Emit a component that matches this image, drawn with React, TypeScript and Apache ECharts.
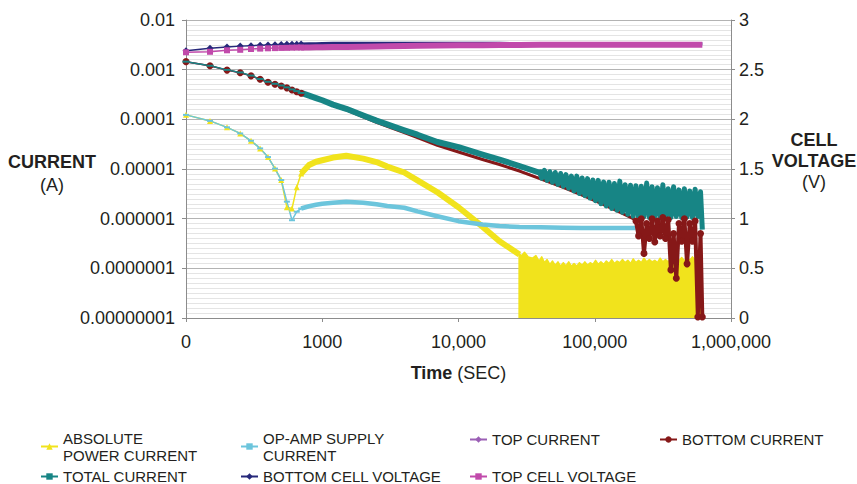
import React, { useEffect, useRef } from "react";
import * as echarts from "echarts";

// ---------- tick labels ----------
const xTickLabels = ["0", "1000", "10,000", "100,000", "1,000,000"]; // 1e2 .. 1e6
const yTickLabels = ["0.00000001", "0.0000001", "0.000001", "0.00001", "0.0001", "0.001", "0.01"]; // 1e-8 .. 1e-2

// ---------- series names ----------
const N_ABS = "ABSOLUTE POWER CURRENT";
const N_OPAMP = "OP-AMP SUPPLY CURRENT";
const N_TOP = "TOP CURRENT";
const N_BOT = "BOTTOM CURRENT";
const N_TOT = "TOTAL CURRENT";
const N_BV = "BOTTOM CELL VOLTAGE";
const N_TV = "TOP CELL VOLTAGE";

// ---------- time samples (s) ----------
const headTime = [100, 150, 200, 250, 300, 350, 400, 450, 500, 550, 600, 650, 700];
const midTime = [700, 800, 900, 1000, 1200, 1500, 2000, 2500, 3000, 4000, 5000, 7000, 10000, 15000, 20000, 28000, 40000, 58000, 80000, 108000, 150000, 200000, 300000, 616000];
const noiseTime = [39000, 40800, 42700, 44700, 46800, 49000, 51300, 53700, 56200, 58800, 61500, 64400, 67400, 70500, 73800, 77200, 80800, 84600, 88500, 92600, 96900, 101400, 106100, 111000, 116200, 121600, 127300, 133200, 139400, 145900, 152700, 159800, 167200, 175000, 183100, 191600, 200500, 209800, 219600, 229800, 240500, 251700, 263400, 275700, 288500, 301900, 316000, 330700, 346100, 362200, 379100, 396700, 415200, 434500, 454700, 475900, 498000, 521200, 545400, 570800, 597400, 616000];
const absBandTime = [27500, 29000, 30500, 32500, 35000, 37000, 39000, 40800, 42700, 44700, 46800, 49000, 51300, 53700, 56200, 58800, 61500, 64400, 67400, 70500, 73800, 77200, 80800, 84600, 88500, 92600, 96900, 101400, 106100, 111000, 116200, 121600, 127300, 133200, 139400, 145900, 152700, 159800, 167200, 175000, 183100, 191600, 200500, 209800, 219600, 229800, 240500, 251700, 263400, 275700, 288500, 301900, 316000, 330700, 346100, 362200, 379100, 396700, 415200, 434500, 454700, 475900, 498000, 521200, 545400, 570800, 597400, 616000];
const redNoiseTime = [200500, 209800, 219600, 229800, 240500, 251700, 263400, 275700, 288500, 301900, 316000, 330700, 346100, 362200, 379100, 396700, 415200, 434500, 454700, 475900, 498000, 521200, 545400, 570800, 597400, 616000];

// ---------- currents (A) ----------
const absHead = [1.23e-4, 9.3e-5, 6.9e-5, 5.2e-5, 3.7e-5, 2.6e-5, 1.74e-5, 1.02e-5, 6.0e-6, 1.7e-6, 1.6e-6, 4.3e-6, 8.1e-6];
const absTail = [8.1e-6, 1.2e-5, 1.4e-5, 1.5e-5, 1.7e-5, 1.85e-5, 1.62e-5, 1.38e-5, 1.12e-5, 8.5e-6, 5.9e-6, 3.4e-6, 1.7e-6, 6.9e-7, 3.5e-7, 1.9e-7, null, null, null, null, null, null, null, null];
const absBand = [2.0e-7, 1.8e-7, 2.1e-7, 1.7e-7, 1.6e-7, 1.8e-7, 1.4e-7, 1.7e-7, 1.3e-7, 1.5e-7, 1.2e-7, 1.4e-7, 1.15e-7, 1.35e-7, 1.1e-7, 1.3e-7, 1.12e-7, 1.35e-7, 1.1e-7, 1.25e-7, 1.1e-7, 1.3e-7, 1.15e-7, 1.35e-7, 1.15e-7, 1.3e-7, 1.2e-7, 1.45e-7, 1.2e-7, 1.35e-7, 1.2e-7, 1.4e-7, 1.25e-7, 1.5e-7, 1.25e-7, 1.4e-7, 1.3e-7, 1.5e-7, 1.3e-7, 1.45e-7, 1.25e-7, 1.55e-7, 1.3e-7, 1.45e-7, 1.3e-7, 1.6e-7, 1.35e-7, 1.5e-7, 1.35e-7, 1.45e-7, 1.3e-7, 1.6e-7, 1.35e-7, 1.5e-7, 1.35e-7, 1.55e-7, 1.4e-7, 1.6e-7, 1.4e-7, 1.65e-7, 1.4e-7, 1.6e-7, 1.45e-7, 1.7e-7, 1.45e-7, 1.6e-7, 1.5e-7, 1.55e-7];

const opampHead = [1.23e-4, 9.3e-5, 6.9e-5, 5.2e-5, 3.7e-5, 2.6e-5, 1.74e-5, 1.02e-5, 6.0e-6, 2.2e-6, 9.3e-7, 1.38e-6, 1.6e-6];
const opampTail = [1.6e-6, 1.78e-6, 1.9e-6, 2.0e-6, 2.1e-6, 2.2e-6, 2.1e-6, 1.95e-6, 1.8e-6, 1.66e-6, 1.4e-6, 1.12e-6, 8.9e-7, 7.6e-7, 7.1e-7, 6.8e-7, 6.7e-7, 6.6e-7, 6.5e-7, 6.5e-7, 6.5e-7, 6.5e-7, null, null];

const topHead = [1.45e-3, 1.2e-3, 9.8e-4, 8.7e-4, 7.5e-4, 6.4e-4, 5.6e-4, 5.1e-4, 4.7e-4, 4.3e-4, 3.9e-4, 3.6e-4, 3.35e-4];
const topTail = [3.4e-4, 3.0e-4, 2.65e-4, 2.4e-4, 1.93e-4, 1.58e-4, 1.14e-4, 8.9e-5, 7.4e-5, 5.5e-5, 4.4e-5, 3.1e-5, 2.25e-5, 1.58e-5, 1.26e-5, 9.3e-6, 6.5e-6, 4.4e-6, 3.1e-6, 2.15e-6, 1.4e-6, 9.8e-7, null, null];

const botHead = [1.45e-3, 1.2e-3, 9.8e-4, 8.7e-4, 7.5e-4, 6.4e-4, 5.6e-4, 5.1e-4, 4.7e-4, 4.3e-4, 3.9e-4, 3.6e-4, 3.35e-4];
const botTail = [3.35e-4, 2.95e-4, 2.6e-4, 2.35e-4, 1.9e-4, 1.55e-4, 1.12e-4, 8.7e-5, 7.2e-5, 5.4e-5, 4.3e-5, 3.0e-5, 2.2e-5, 1.55e-5, 1.23e-5, 9.1e-6, 6.3e-6, 4.3e-6, 3.0e-6, 2.1e-6, 1.38e-6, 9.5e-7, null, null];
const botNoise = [9.0e-7, 4.5e-7, 1.0e-6, 2.0e-7, 8.0e-7, 4.0e-7, 1.0e-6, 3.4e-7, 9.0e-7, 4.5e-7, 1.05e-6, 4.0e-7, 9.5e-7, 9.3e-8, 5.0e-7, 6.3e-8, 8.0e-7, 3.5e-7, 1.0e-6, 1.23e-7, 8.0e-7, 3.5e-7, 9.0e-7, 1.05e-8, 5.0e-7, 1.05e-8];

const totHead = [1.45e-3, 1.2e-3, 9.9e-4, 8.8e-4, 7.6e-4, 6.5e-4, 5.7e-4, 5.2e-4, 4.8e-4, 4.4e-4, 4.0e-4, 3.7e-4, 3.4e-4];
const totTail = [3.4e-4, 3.0e-4, 2.68e-4, 2.42e-4, 1.98e-4, 1.63e-4, 1.19e-4, 9.4e-5, 7.9e-5, 6.0e-5, 4.9e-5, 3.5e-5, 2.75e-5, 1.95e-5, 1.55e-5, 1.15e-5, 8.3e-6, null, null, null, null, null, null, null];
const totNoise = [9.6e-6, 6.5e-6, 9.4e-6, 5.9e-6, 8.8e-6, 5.4e-6, 8.5e-6, 4.9e-6, 8.1e-6, 4.5e-6, 7.7e-6, 4.1e-6, 7.2e-6, 3.6e-6, 7.2e-6, 3.2e-6, 6.6e-6, 2.9e-6, 6.4e-6, 2.6e-6, 6.0e-6, 2.3e-6, 5.9e-6, 2.0e-6, 5.5e-6, 1.8e-6, 5.4e-6, 1.6e-6, 5.1e-6, 1.48e-6, 5.7e-6, 1.35e-6, 4.8e-6, 1.23e-6, 4.7e-6, 1.12e-6, 4.6e-6, 1.07e-6, 4.5e-6, 1.1e-6, 5.2e-6, 1.05e-6, 4.4e-6, 1.1e-6, 4.2e-6, 1.05e-6, 4.8e-6, 1.08e-6, 4.0e-6, 1.05e-6, 4.4e-6, 1.1e-6, 3.8e-6, 1.05e-6, 4.0e-6, 1.08e-6, 3.6e-6, 1.05e-6, 3.9e-6, 1.1e-6, 3.5e-6, 6.0e-7];

// ---------- cell voltages (V) ----------
const bvHead = [2.69, 2.715, 2.728, 2.737, 2.742, 2.746, 2.749, 2.751, 2.753, 2.755, 2.756, 2.757, 2.758];
const bvTail = [2.758, 2.76, 2.762, 2.764, 2.765, 2.766, 2.767, 2.767, 2.767, 2.767, 2.767, 2.766, 2.765, 2.765, 2.765, 2.764, 2.764, 2.763, 2.763, 2.763, 2.762, 2.762, 2.762, 2.762];
const tvHead = [2.675, 2.68, 2.695, 2.7, 2.708, 2.712, 2.715, 2.717, 2.719, 2.72, 2.722, 2.723, 2.724];
const tvTail = [2.724, 2.724, 2.725, 2.725, 2.727, 2.729, 2.731, 2.733, 2.735, 2.738, 2.74, 2.743, 2.745, 2.747, 2.748, 2.749, 2.75, 2.75, 2.75, 2.75, 2.75, 2.75, 2.75, 2.75];

// ---------- styling ----------
const FONT = "'Liberation Sans', Arial, Helvetica, sans-serif";
const TEXT = "#231f20";
const AXIS_GRAY = "#8c8c8c";
const C_ABS = "#f1e31c";
const C_OPAMP = "#6cc5dc";
const C_TOP = "#9b5fb5";
const C_BOT = "#861818";
const C_TOT = "#178585";
const C_BV = "#26287a";
const C_TV = "#c14aab";

function pairs(t: number[], v: (number | null)[]) {
  return t.map((x, i) => [x, v[i]]).filter((p) => p[1] != null);
}

export default function App() {
  const ref = useRef<HTMLDivElement>(null);

  useEffect(() => {
    document.body.style.margin = "0";
    if (!ref.current) return;
    const chart = echarts.init(ref.current, null, { renderer: "svg" });

    const series: any[] = [];
    const head = (name: string, yi: number, t: number[], v: (number | null)[], color: string, symbol: any, size: any) =>
      series.push({
        type: "line", name, yAxisIndex: yi, data: pairs(t, v), symbol, symbolSize: size, showSymbol: true,
        itemStyle: { color }, lineStyle: { color, width: 1.5 }, emphasis: { disabled: true }, clip: true,
      });
    const tail = (name: string, yi: number, t: number[], v: (number | null)[], color: string, width: number, extra: any = {}) =>
      series.push({
        type: "line", name, yAxisIndex: yi, data: pairs(t, v), symbol: "none", showSymbol: false,
        itemStyle: { color }, lineStyle: { color, width, join: "round" }, emphasis: { disabled: true }, clip: true, ...extra,
      });

    head(N_ABS, 0, headTime, absHead, C_ABS, "triangle", 6);
    tail(N_ABS, 0, midTime, absTail, C_ABS, 6);
    tail(N_ABS, 0, absBandTime, absBand, C_ABS, 1.5, { areaStyle: { color: C_ABS, opacity: 1, origin: "start" } });

    head(N_OPAMP, 0, headTime, opampHead, C_OPAMP, "rect", [6, 2]);
    tail(N_OPAMP, 0, midTime, opampTail, C_OPAMP, 4.5);

    head(N_TOP, 0, headTime, topHead, C_TOP, "diamond", 6);
    tail(N_TOP, 0, midTime, topTail, C_TOP, 1.5);

    head(N_BOT, 0, headTime, botHead, C_BOT, "circle", 7);
    tail(N_BOT, 0, midTime, botTail, C_BOT, 3);
    series.push({
      type: "line", name: N_BOT, yAxisIndex: 0, data: pairs(redNoiseTime, botNoise), symbol: "circle", symbolSize: 7,
      showSymbol: true, itemStyle: { color: C_BOT }, lineStyle: { color: C_BOT, width: 4, join: "round" },
      emphasis: { disabled: true }, clip: true,
    });

    head(N_TOT, 0, headTime, totHead, C_TOT, "rect", [7, 2]);
    tail(N_TOT, 0, midTime, totTail, C_TOT, 6);
    tail(N_TOT, 0, noiseTime, totNoise, C_TOT, 5);

    head(N_BV, 1, headTime, bvHead, C_BV, "diamond", 7);
    tail(N_BV, 1, midTime, bvTail, C_BV, 3);

    head(N_TV, 1, headTime, tvHead, C_TV, "rect", 6);
    tail(N_TV, 1, midTime, tvTail, C_TV, 6);

    const legendText = { fontFamily: FONT, fontSize: 15, color: TEXT, lineHeight: 17 };
    const legendBase = { orient: "horizontal", itemWidth: 17, itemHeight: 8, itemGap: 0, padding: 0, selectedMode: false };
    const twoLine = { ...legendText, padding: [17, 0, 0, 0] };

    const option: any = {
      animation: false,
      backgroundColor: "#ffffff",
      textStyle: { fontFamily: FONT },
      grid: { left: 186, right: 126, top: 20, bottom: 166, containLabel: false, outerBoundsMode: "none" },
      xAxis: {
        type: "log", logBase: 10, min: 100, max: 1000000,
        name: "{b|Time} {n|(SEC)}", nameLocation: "middle", nameGap: 46, nameMoveOverlap: false,
        nameTextStyle: {
          fontSize: 18, color: TEXT, fontFamily: FONT,
          rich: { b: { fontWeight: "bold", fontSize: 18, color: TEXT, fontFamily: FONT }, n: { fontSize: 18, color: TEXT, fontFamily: FONT } },
        },
        axisLine: { show: true, lineStyle: { color: AXIS_GRAY, width: 1 } },
        axisTick: { show: true, length: 4, lineStyle: { color: AXIS_GRAY } },
        axisLabel: {
          fontSize: 18, color: TEXT, fontFamily: FONT, margin: 15,
          formatter: (v: number) => xTickLabels[Math.round(Math.log10(v)) - 2] ?? "",
        },
        splitLine: { show: false },
        minorTick: { show: false },
      },
      yAxis: [
        {
          type: "log", logBase: 10, min: 1e-8, max: 0.01, position: "left",
          name: "{b|CURRENT}\n{n|(A)}", nameLocation: "middle", nameRotate: 0, nameGap: 84, nameMoveOverlap: false,
          nameTextStyle: {
            color: TEXT, fontFamily: FONT, fontSize: 18, padding: [8, 0, 0, 0],
            rich: {
              b: { fontWeight: "bold", fontSize: 18, color: TEXT, fontFamily: FONT, width: 100, align: "center", lineHeight: 23 },
              n: { fontSize: 18, color: TEXT, fontFamily: FONT, width: 100, align: "center", lineHeight: 23 },
            },
          },
          axisLine: { show: true, lineStyle: { color: AXIS_GRAY, width: 1 } },
          axisTick: { show: true, length: 4, lineStyle: { color: AXIS_GRAY } },
          axisLabel: {
            fontSize: 18, color: TEXT, fontFamily: FONT, margin: 11,
            formatter: (v: number) => yTickLabels[Math.round(Math.log10(v)) + 8] ?? "",
          },
          splitLine: { show: false },
        },
        {
          type: "value", min: 0, max: 3, interval: 0.5, position: "right",
          name: "{b|CELL}\n{b|VOLTAGE}\n{n|(V)}", nameLocation: "middle", nameRotate: 0, nameGap: 33, nameMoveOverlap: false,
          nameTextStyle: {
            color: TEXT, fontFamily: FONT, fontSize: 18, padding: [0, 0, 16, 0],
            rich: {
              b: { fontWeight: "bold", fontSize: 18, color: TEXT, fontFamily: FONT, width: 100, align: "center", lineHeight: 21 },
              n: { fontSize: 18, color: TEXT, fontFamily: FONT, width: 100, align: "center", lineHeight: 21 },
            },
          },
          axisLine: { show: true, lineStyle: { color: AXIS_GRAY, width: 1 } },
          axisTick: { show: true, length: 4, lineStyle: { color: AXIS_GRAY } },
          axisLabel: { fontSize: 18, color: TEXT, fontFamily: FONT, margin: 8 },
          splitLine: { show: true, lineStyle: { color: "#b3b3b3", width: 1 } },
          minorTick: { show: false, splitNumber: 10 },
          minorSplitLine: { show: true, lineStyle: { color: "#e4e4e4", width: 1 } },
        },
      ],
      legend: [
        { ...legendBase, data: [N_ABS], left: 40, top: 421, formatter: () => "ABSOLUTE\nPOWER CURRENT", textStyle: twoLine },
        { ...legendBase, data: [N_OPAMP], left: 240, top: 421, formatter: () => "OP-AMP SUPPLY\nCURRENT", textStyle: twoLine },
        { ...legendBase, data: [N_TOP], left: 469, top: 431, textStyle: legendText },
        { ...legendBase, data: [N_BOT], left: 659, top: 431, textStyle: legendText },
        { ...legendBase, data: [N_TOT], left: 40, top: 468, textStyle: legendText },
        { ...legendBase, data: [N_BV], left: 240, top: 468, textStyle: legendText },
        { ...legendBase, data: [N_TV], left: 469, top: 468, textStyle: legendText },
      ],
      series,
    };

    chart.setOption(option);
    return () => chart.dispose();
  }, []);

  return <div ref={ref} style={{ width: 857, height: 484 }} />;
}
